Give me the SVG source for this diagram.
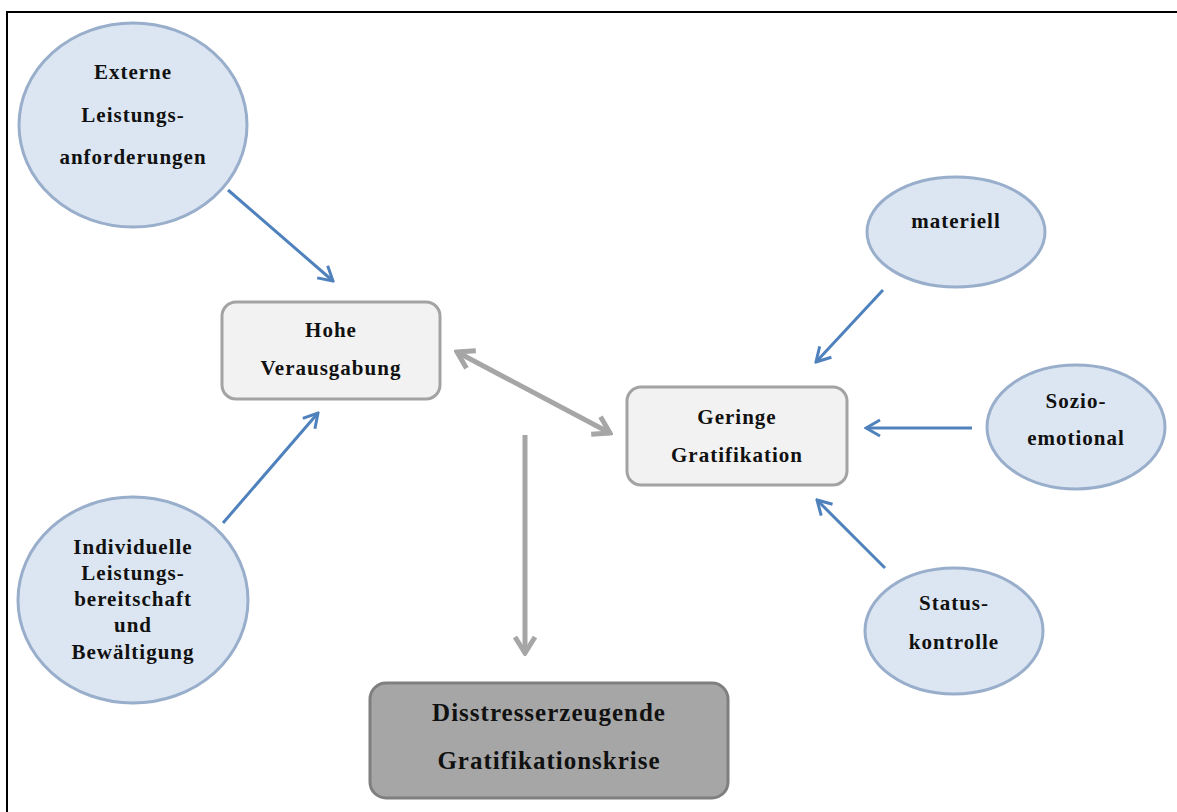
<svg xmlns="http://www.w3.org/2000/svg" width="1177" height="812" viewBox="0 0 1177 812">
<style>
.ell{fill:#dce6f2;stroke:#98aecb;stroke-width:3}
.box{fill:#f2f2f2;stroke:#a3a3a3;stroke-width:3}
.dark{fill:#a6a6a6;stroke:#7f7f7f;stroke-width:3}
.t{font-family:"Liberation Serif","Times New Roman",serif;font-weight:bold;font-size:21px;fill:#111111;text-anchor:middle;letter-spacing:1px}
.tb{font-size:25px}
.blue{stroke:#4f81bd;stroke-width:3;fill:none}
.gray{stroke:#a6a6a6;stroke-width:5;fill:none}
</style>
<defs>
<marker id="ab" markerUnits="userSpaceOnUse" viewBox="0 0 18 20" refX="16" refY="10" markerWidth="18" markerHeight="20" orient="auto">
<path d="M2,2 L16,10 L2,18" fill="none" stroke="#4f81bd" stroke-width="3"/>
</marker>
<marker id="ag" markerUnits="userSpaceOnUse" viewBox="0 0 22 26" refX="19" refY="13" markerWidth="22" markerHeight="26" orient="auto-start-reverse">
<path d="M3,3 L19,13 L3,23" fill="none" stroke="#a6a6a6" stroke-width="5"/>
</marker>
</defs>
<rect width="1177" height="812" fill="#ffffff"/>
<path d="M7,812 L7,12 L1177,12" fill="none" stroke="#000" stroke-width="2"/>

<g id="connectors">
<line class="blue" x1="228" y1="190" x2="333" y2="281" marker-end="url(#ab)"/>
<line class="blue" x1="223" y1="523" x2="318" y2="413" marker-end="url(#ab)"/>
<line class="gray" x1="457" y1="352" x2="610" y2="433" marker-start="url(#ag)" marker-end="url(#ag)"/>
<line class="gray" x1="525" y1="435" x2="525" y2="653" marker-end="url(#ag)"/>
<line class="blue" x1="883" y1="290" x2="816" y2="362" marker-end="url(#ab)"/>
<line class="blue" x1="972" y1="428" x2="866" y2="428" marker-end="url(#ab)"/>
<line class="blue" x1="885" y1="568" x2="817" y2="500" marker-end="url(#ab)"/>
</g>

<g id="externe">
<ellipse class="ell" cx="133" cy="125" rx="114" ry="102"/>
<text class="t" x="133" y="79">Externe</text>
<text class="t" x="133" y="122">Leistungs-</text>
<text class="t" x="133" y="164">anforderungen</text>
</g>

<g id="individuelle">
<ellipse class="ell" cx="133" cy="600" rx="115" ry="103"/>
<text class="t" x="133" y="554">Individuelle</text>
<text class="t" x="133" y="580">Leistungs-</text>
<text class="t" x="133" y="606">bereitschaft</text>
<text class="t" x="133" y="632">und</text>
<text class="t" x="133" y="659">Bewältigung</text>
</g>

<g id="hohe">
<rect class="box" x="222" y="302" width="218" height="97" rx="14"/>
<text class="t" x="331" y="337">Hohe</text>
<text class="t" x="331" y="375">Verausgabung</text>
</g>

<g id="geringe">
<rect class="box" x="627" y="387" width="220" height="98" rx="14"/>
<text class="t" x="737" y="424">Geringe</text>
<text class="t" x="737" y="462">Gratifikation</text>
</g>

<g id="materiell">
<ellipse class="ell" cx="956" cy="232" rx="89" ry="55"/>
<text class="t" x="956" y="228">materiell</text>
</g>

<g id="sozio">
<ellipse class="ell" cx="1076" cy="427" rx="89" ry="62"/>
<text class="t" x="1076" y="408">Sozio-</text>
<text class="t" x="1076" y="445">emotional</text>
</g>

<g id="status">
<ellipse class="ell" cx="954" cy="631" rx="89" ry="63"/>
<text class="t" x="954" y="610">Status-</text>
<text class="t" x="954" y="649">kontrolle</text>
</g>

<g id="krise">
<rect class="dark" x="370" y="683" width="358" height="115" rx="16"/>
<text class="t tb" x="549" y="721">Disstresserzeugende</text>
<text class="t tb" x="549" y="769">Gratifikationskrise</text>
</g>
</svg>
